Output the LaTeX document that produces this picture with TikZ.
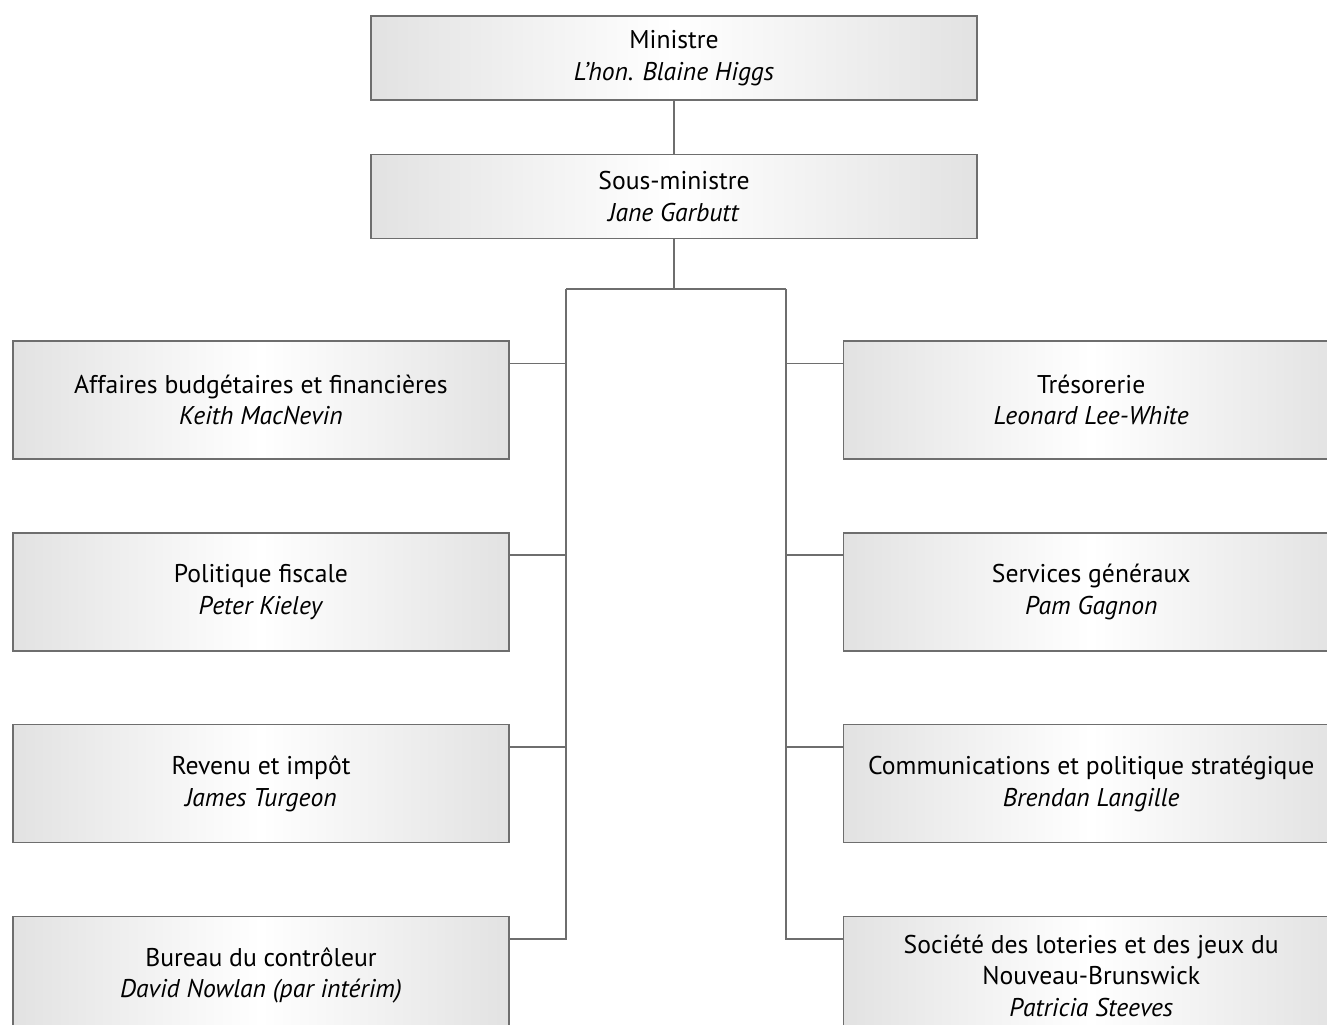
\documentclass[tikz,border=0pt]{standalone}
\usepackage{fontspec}
\setmainfont{PT Sans}
\usetikzlibrary{positioning}
\definecolor{linegray}{HTML}{6E6E6E}
\definecolor{edgegray}{HTML}{E2E2E2}

\begin{document}
\begin{tikzpicture}[x=0.02cm,y=-0.02cm,node distance=1.45cm,
  every node/.style={font=\fontsize{14.6}{18}\selectfont,align=center},
  unit/.style={draw=linegray,line width=0.8pt,left color=edgegray,right color=edgegray,middle color=white,
    minimum width=9.92cm,minimum height=2.36cm,inner sep=0pt},
  topunit/.style={unit,minimum width=12.12cm,minimum height=1.68cm},
  link/.style={draw=linegray,line width=0.8pt}]
  \clip (0,0) rectangle (1327,1024);

  \node[topunit] (min) at (674,58) {Ministre\\\textit{L'hon. Blaine Higgs}};
  \node[topunit,below=1.06cm of min] (sm) {Sous-ministre\\\textit{Jane Garbutt}};

  \node[unit] (aff) at (261,400) {Affaires budgétaires et financières\\\textit{Keith MacNevin}};
  \node[unit,below=of aff] (pol) {Politique fiscale\\\textit{Peter Kieley}};
  \node[unit,below=of pol] (rev) {Revenu et impôt\\\textit{James Turgeon}};
  \node[unit,below=of rev] (bur) {Bureau du contrôleur\\\textit{David Nowlan (par intérim)}};

  \node[unit,right=6.66cm of aff] (tres) {Trésorerie\\\textit{Leonard Lee-White}};
  \node[unit,below=of tres] (serv) {Services généraux\\\textit{Pam Gagnon}};
  \node[unit,below=of serv] (comm) {Communications et politique stratégique\\\textit{Brendan Langille}};
  \node[unit,below=of comm] (lot) {Société des loteries et des jeux du\\Nouveau-Brunswick\\\textit{Patricia Steeves}};

  \coordinate (barL) at (566,289);
  \coordinate (barR) at (786,289);
  \coordinate (affc) at ([yshift=-0.46cm]aff.north east);
  \coordinate (polc) at ([yshift=-0.46cm]pol.north east);
  \coordinate (revc) at ([yshift=-0.46cm]rev.north east);
  \coordinate (burc) at ([yshift=-0.46cm]bur.north east);
  \coordinate (tresc) at ([yshift=-0.46cm]tres.north west);
  \coordinate (servc) at ([yshift=-0.46cm]serv.north west);
  \coordinate (commc) at ([yshift=-0.46cm]comm.north west);
  \coordinate (lotc) at ([yshift=-0.46cm]lot.north west);

  \path[link](min)--(sm);
  \path[link](sm.south)--(sm.south |- barL);
  \path[link](barL)--(barR);
  \path[link](burc)-|(barL);
  \path[link](lotc)-|(barR);
  \path[link](affc)--(affc -| barL);
  \path[link](polc)--(polc -| barL);
  \path[link](revc)--(revc -| barL);
  \path[link](tresc)--(tresc -| barR);
  \path[link](servc)--(servc -| barR);
  \path[link](commc)--(commc -| barR);
\end{tikzpicture}
\end{document}
